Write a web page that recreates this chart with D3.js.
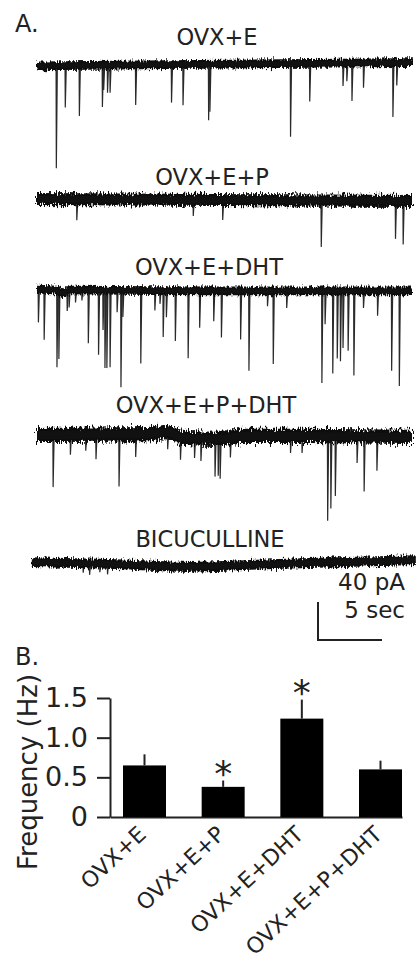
<!DOCTYPE html>
<html>
<head>
<meta charset="utf-8">
<script src="https://cdn.jsdelivr.net/npm/d3@7"></script>
<style>
body { margin: 0; background: #fff; }
svg { display: block; font-family: "DejaVu Sans", Verdana, sans-serif; }
</style>
</head>
<body>
<svg id="chart" width="416" height="967"></svg>
<script>
// ---- panel A : sIPSC traces ----
var traceNames = ["OVX+E", "OVX+E+P", "OVX+E+DHT", "OVX+E+P+DHT", "BICUCULLINE"];
var traceNoise = [8, 11, 8, 13, 9];   // baseline noise, pA peak to peak

// event times (s) and amplitudes (pA, inward)
var ev1Times = [1.5, 2.2, 3.3, 5.1, 5.2, 5.5, 5.7, 7.7, 10.5, 11.4, 13.4, 13.5, 19.8, 21.3, 23.9, 24.2, 24.6, 25.5, 27.8, 28.1];
var ev1Amps  = [108, 44, 53, 44, 26, 29, 29, 42, 40, 43, 59, 50, 77, 40, 24, 19, 40, 26, 57, 24];

var ev2Times = [3.1, 12.2, 14.5, 22.2, 28.0, 28.6];
var ev2Amps  = [22, 17, 21, 49, 40, 46];

var ev3Times = [0.1, 0.55, 1.55, 1.7, 2.35, 2.5, 3.0, 3.5, 4.0, 4.8, 5.15, 5.3, 5.45, 5.7, 6.25, 6.55, 6.7,
                8.1, 9.2, 9.6, 9.85, 10.1, 10.8, 11.8, 12.7, 13.8, 14.4, 15.9, 16.55, 18.0, 18.45, 19.5,
                22.25, 22.5, 23.1, 23.45, 23.7, 23.9, 24.3, 24.75, 25.5, 26.6, 27.7, 28.3];
var ev3Amps  = [35, 53, 81, 71, 21, 18, 13, 11, 56, 68, 42, 82, 82, 81, 23, 102, 28,
                77, 21, 14, 49, 28, 53, 71, 39, 32, 49, 51, 84, 16, 77, 18,
                97, 35, 87, 71, 74, 60, 63, 89, 18, 26, 84, 100];

var ev4Times = [1.25, 2.6, 3.8, 4.6, 6.4, 7.7, 10.2, 11.2, 12.3, 12.8, 13.9, 14.15, 14.3, 15.1, 19.8, 20.7, 22.7, 22.95, 23.3, 25.0, 25.55, 26.55];
var ev4Amps  = [55, 21, 17, 26, 55, 24, 18, 24, 21, 24, 40, 39, 42, 21, 18, 18, 89, 76, 63, 28, 58, 36];

var ev5Times = [3.6, 4.1, 4.9, 5.5];
var ev5Amps  = [10, 12, 9, 11];

// slow baseline drift: times (s) and offset (pA)
var drift1Times = [0, 15, 29.3];
var drift1Vals  = [-1, 1, 2.5];
var drift2Times = [0, 29.3];
var drift2Vals  = [1, -1];
var drift3Times = [0, 1.5, 1.9, 2.6, 15, 29.3];
var drift3Vals  = [1, 0, -3, 0, -1, -1];
var drift4Times = [0, 8.8, 10.2, 11.4, 14.5, 15.9, 20.5, 29.3];
var drift4Vals  = [0, 1, 3, -3, -4, -1, -1, -2];
var drift5Times = [-0.4, 5.7, 12, 16.6, 21.3, 29.6];
var drift5Vals  = [1, -1, -4, -2, 0, 3];

// ---- panel B : frequency ----
var groups = ["OVX+E", "OVX+E+P", "OVX+E+DHT", "OVX+E+P+DHT"];
var freqMean = [0.65, 0.38, 1.24, 0.60];
var freqSem  = [0.14, 0.08, 0.24, 0.11];
var signif   = [false, true, true, false];
var yTicks = [0, 0.5, 1.0, 1.5];
var yTickLabels = ["0", "0.5", "1.0", "1.5"];

var ink = "#222";
var svg = d3.select("#chart");
var defs = svg.append("defs");

var traces = [
	{ times: ev1Times, amps: ev1Amps, dT: drift1Times, dV: drift1Vals },
	{ times: ev2Times, amps: ev2Amps, dT: drift2Times, dV: drift2Vals },
	{ times: ev3Times, amps: ev3Amps, dT: drift3Times, dV: drift3Vals },
	{ times: ev4Times, amps: ev4Amps, dT: drift4Times, dV: drift4Vals },
	{ times: ev5Times, amps: ev5Amps, dT: drift5Times, dV: drift5Vals }
];

var traceBase = [65, 200, 290, 435, 563];
var titleX = [217, 212, 209, 206, 210];
var titleY = [45, 185, 275, 413, 547];

var x = d3.scaleLinear().domain([0, 29.3]).range([37, 412]);
var pxPerPA = 38 / 40;

svg.append("text").attr("x", 15).attr("y", 32).attr("font-size", 24).attr("fill", ink).text("A.");

traces.forEach(function (tr, i) {
	var y = d3.scaleLinear().domain([0, -40]).range([traceBase[i], traceBase[i] + 40 * pxPerPA]);
	var drift = d3.scaleLinear().domain(tr.dT).range(tr.dV);
	var noisePx = traceNoise[i] * pxPerPA;

	var f = defs.append("filter").attr("id", "noise" + i)
		.attr("filterUnits", "userSpaceOnUse")
		.attr("x", 0).attr("y", 0).attr("width", 416).attr("height", 967);
	f.append("feTurbulence").attr("type", "fractalNoise")
		.attr("baseFrequency", "0.8 0.2").attr("numOctaves", 2)
		.attr("seed", i + 2).attr("result", "turb");
	f.append("feDisplacementMap").attr("in", "SourceGraphic").attr("in2", "turb")
		.attr("scale", noisePx * 1.0)
		.attr("xChannelSelector", "R").attr("yChannelSelector", "G");

	var g = svg.append("g");
	var line = d3.line().x(function (d) { return x(d[0]); }).y(function (d) { return y(d[1]); });

	g.selectAll("path.ev").data(tr.times).enter().append("path")
		.attr("class", "ev")
		.attr("d", function (t, j) {
			var b = drift(t);
			return line([[t - 0.01, b], [t + 0.01, b - tr.amps[j]], [t + 0.09, b]]);
		})
		.attr("fill", "none").attr("stroke", "#2a2a2a").attr("stroke-width", 1.2);

	var base = tr.dT.map(function (t, j) { return [t, tr.dV[j]]; });
	var bandPath = line.curve(d3.curveMonotoneX)(base);
	// noisy band plus a solid core
	g.append("path")
		.attr("d", bandPath)
		.attr("fill", "none").attr("stroke", "#111")
		.attr("stroke-width", noisePx * 1.15)
		.attr("filter", "url(#noise" + i + ")");
	g.append("path")
		.attr("d", bandPath)
		.attr("fill", "none").attr("stroke", "#111")
		.attr("stroke-width", noisePx * 0.65);

	svg.append("text").attr("x", titleX[i]).attr("y", titleY[i])
		.attr("text-anchor", "middle").attr("font-size", 22.5).attr("fill", ink)
		.text(traceNames[i]);
});

// scale bar
var sb = svg.append("g").attr("transform", "translate(318,640)");
var sbY = d3.scaleLinear().domain([0, 40]).range([0, -40 * pxPerPA]);
sb.append("path")
	.attr("d", "M0," + sbY(40) + "V0H" + (x(5) - x(0)))
	.attr("fill", "none").attr("stroke", ink).attr("stroke-width", 2);
svg.append("text").attr("x", 405).attr("y", 590).attr("text-anchor", "end")
	.attr("font-size", 23).attr("fill", ink).text("40 pA");
svg.append("text").attr("x", 405).attr("y", 618).attr("text-anchor", "end")
	.attr("font-size", 23).attr("fill", ink).text("5 sec");

// ---- bar chart ----
svg.append("text").attr("x", 15).attr("y", 665).attr("font-size", 24).attr("fill", ink).text("B.");

var yb = d3.scaleLinear().domain([0, 1.5]).range([817, 698]);
var xb = d3.scaleBand().domain(groups).range([110, 402])
	.paddingInner(0.4534).paddingOuter(0.0826).align(1);

var gy = svg.append("g").attr("transform", "translate(110,0)")
	.call(d3.axisLeft(yb).tickValues(yTicks)
		.tickFormat(function (d, i) { return yTickLabels[i]; })
		.tickSize(13).tickSizeOuter(0).tickPadding(9));
gy.attr("font-family", null).attr("font-size", 27);
gy.selectAll("path, line").attr("stroke", ink).attr("stroke-width", 2);
gy.selectAll("text").attr("fill", ink);

var gx = svg.append("g").attr("transform", "translate(0,817)")
	.call(d3.axisBottom(xb).tickSize(0).tickSizeOuter(0).tickFormat(""));
gx.selectAll(".tick").remove();
gx.select(".domain").attr("stroke", ink).attr("stroke-width", 2);

svg.selectAll("rect.bar").data(groups).enter().append("rect")
	.attr("class", "bar")
	.attr("x", function (d) { return xb(d); })
	.attr("width", xb.bandwidth())
	.attr("y", function (d, i) { return yb(freqMean[i]); })
	.attr("height", function (d, i) { return yb(0) - yb(freqMean[i]); })
	.attr("fill", "#000");

svg.selectAll("line.err").data(groups).enter().append("line")
	.attr("class", "err")
	.attr("x1", function (d) { return xb(d) + xb.bandwidth() / 2; })
	.attr("x2", function (d) { return xb(d) + xb.bandwidth() / 2; })
	.attr("y1", function (d, i) { return yb(freqMean[i]); })
	.attr("y2", function (d, i) { return yb(freqMean[i] + freqSem[i]); })
	.attr("stroke", ink).attr("stroke-width", 2);

svg.selectAll("text.star").data(groups.filter(function (d, i) { return signif[i]; }))
	.enter().append("text")
	.attr("class", "star")
	.attr("x", function (d) { return xb(d) + xb.bandwidth() / 2; })
	.attr("y", function (d) { var i = groups.indexOf(d); return yb(freqMean[i] + freqSem[i]) + 5; })
	.attr("text-anchor", "middle").attr("font-size", 36).attr("fill", ink)
	.text("*");

svg.selectAll("text.xl").data(groups).enter().append("text")
	.attr("class", "xl")
	.attr("transform", function (d) {
		return "translate(" + (xb(d) + xb.bandwidth() / 2 + 3) + ",836) rotate(-43)";
	})
	.attr("text-anchor", "end").attr("font-size", 22).attr("fill", ink)
	.text(function (d) { return d; });

svg.append("text")
	.attr("transform", "translate(37,772) rotate(-90)")
	.attr("text-anchor", "middle").attr("font-size", 26).attr("fill", ink)
	.text("Frequency (Hz)");
</script>
</body>
</html>
